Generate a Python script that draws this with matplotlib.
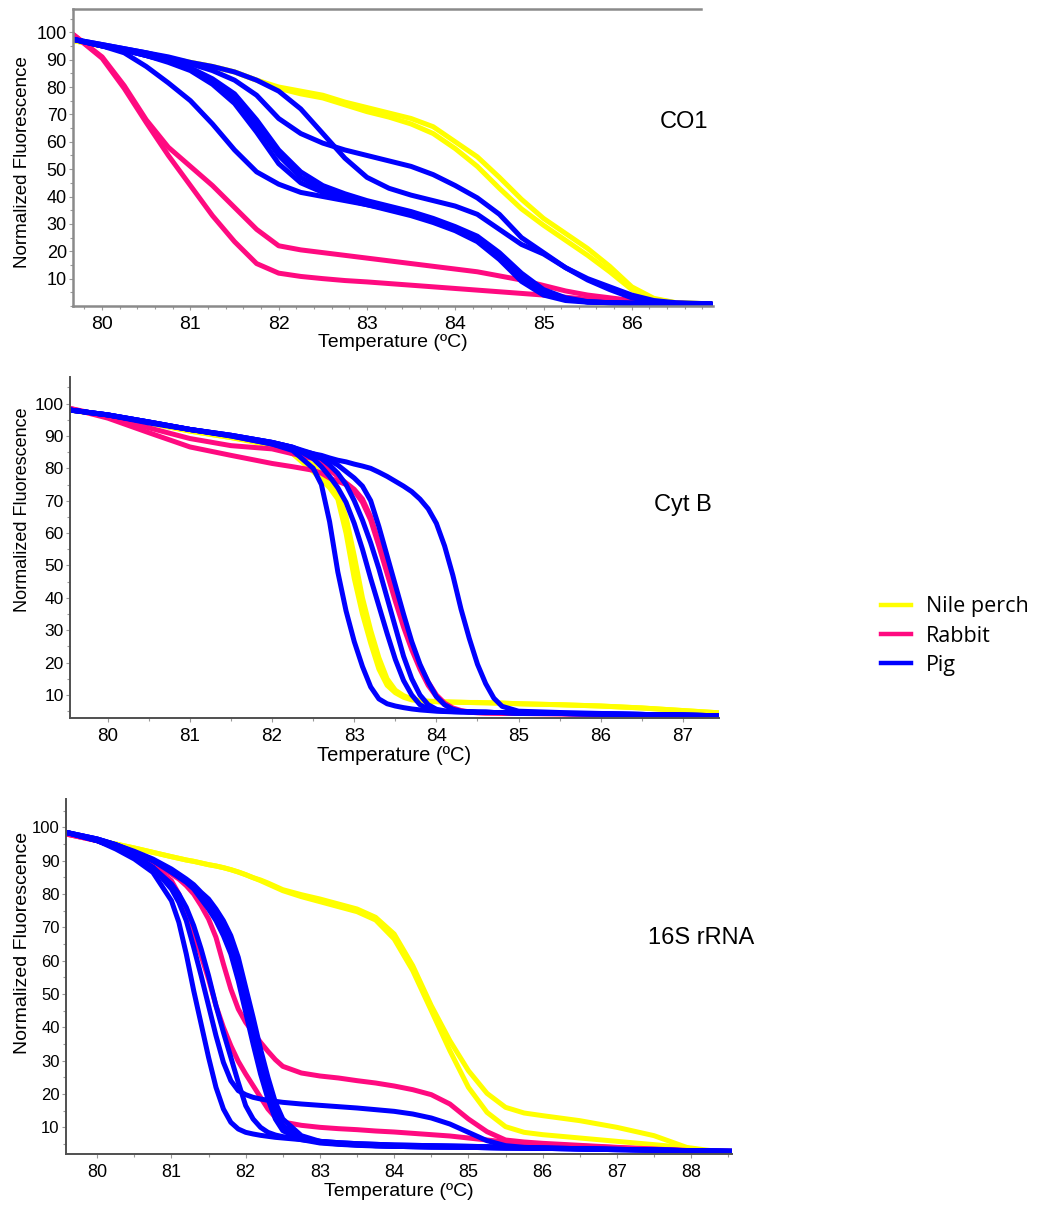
import matplotlib
matplotlib.use("Agg")
import matplotlib.pyplot as plt
from matplotlib.lines import Line2D
from matplotlib.ticker import MultipleLocator

plt.rcParams['font.family'] = ['Liberation Sans', 'DejaVu Sans']

# ---------------- data ----------------
# CO1 panel
co1_temp = [79.66, 80.0, 80.25, 80.5, 80.75, 81.0, 81.25, 81.5, 81.75, 82.0, 82.25, 82.5, 82.75, 83.0,
            83.25, 83.5, 83.75, 84.0, 84.25, 84.5, 84.75, 85.0, 85.25, 85.5, 85.75, 86.0, 86.25, 86.5, 86.9]
co1_nile_perch = [
    [97, 95, 93.5, 92, 90.5, 89, 87.5, 85.5, 82.5, 80, 78.5, 77, 74.5, 72.5, 70.5, 68.5, 65.5, 60, 54.5, 47, 39, 32, 26.5, 21, 14.5, 7, 2.8, 1.2, 0.8],
    [97, 95, 93.5, 92, 90.5, 89, 87.5, 85.5, 82.5, 79.5, 77.5, 76, 73.5, 71, 69, 66.5, 63, 57.5, 51, 43, 35.5, 29.5, 24, 18.5, 12.5, 6, 2.5, 1.2, 0.8],
]
co1_rabbit = [
    [99.5, 91, 80.5, 68, 58, 51, 44, 36, 28, 22, 20.5, 19.5, 18.5, 17.5, 16.5, 15.5, 14.5, 13.5, 12.5, 11, 9.5, 7.5, 5.5, 4, 3, 2, 1.5, 1, 0.7],
    [99.5, 90.5, 79.5, 67, 55, 44, 33, 23.5, 15.5, 12, 10.8, 10, 9.3, 8.8, 8.2, 7.6, 7, 6.4, 5.8, 5.2, 4.6, 4, 3.2, 2.5, 2, 1.5, 1.2, 1, 0.7],
]
co1_pig = [
    [97.5, 95.5, 94, 92.5, 91, 89, 87.5, 85.5, 82.5, 78.5, 72, 63, 54, 47, 43, 40.5, 38.5, 36.5, 33.5, 28, 22.5, 19, 14, 9.5, 6, 3, 1.5, 1, 0.8],
    [97.5, 95.5, 94, 92.5, 90.5, 88.5, 86, 82.5, 77, 68.5, 63, 59.5, 57, 55, 53, 51, 48, 44, 39.5, 33.5, 25, 19.5, 14, 10, 7, 4, 2, 1.2, 0.8],
    [97.5, 95, 93.5, 91.5, 89.5, 86.5, 82, 76, 66, 55, 47, 42.5, 40, 38, 36, 34, 31.5, 28.5, 24.5, 18, 10, 5, 2.5, 1.5, 1.2, 1, 0.9, 0.8, 0.7],
    [97.5, 95, 93.5, 91.5, 89.5, 87, 83, 77.5, 68, 57, 49, 44, 41, 38.5, 36.5, 34.5, 32, 29, 25.5, 19.5, 12, 6, 3, 1.6, 1.2, 1, 0.9, 0.8, 0.7],
    [97.5, 95, 93.5, 91.5, 89, 86, 81, 74, 63.5, 52, 45, 41.5, 39, 37, 35, 33, 30.5, 27.5, 23.5, 17, 9, 4, 2, 1.4, 1.2, 1, 0.9, 0.8, 0.7],
    [97.5, 95, 92.5, 87.5, 81.5, 75, 66.5, 57, 49, 44.5, 41.5, 40, 38.5, 37, 35.5, 33.5, 31.5, 28.5, 24, 18, 10.5, 5, 2.5, 1.5, 1.2, 1, 0.9, 0.8, 0.7],
]

# Cyt B panel
cytb_temp = [79.54, 80.0, 80.5, 81.0, 81.5, 82.0, 82.25, 82.5, 82.6, 82.7, 82.8, 82.9, 83.0, 83.1, 83.2, 83.3,
             83.4, 83.5, 83.6, 83.7, 83.8, 83.9, 84.0, 84.1, 84.2, 84.3, 84.4, 84.5, 84.6, 84.7, 84.8, 85.0,
             85.5, 86.0, 86.5, 87.0, 87.44]
cytb_nile_perch = [
    [98, 96.3, 94, 91.5, 89.5, 87, 84.5, 79, 76.5, 74, 70.5, 60, 46, 35, 26, 18, 13, 10.7, 9.3, 8.5, 8.2, 8.0, 7.9, 7.8, 7.8, 7.7, 7.7, 7.6, 7.6, 7.5, 7.5, 7.3, 7.0, 6.6, 6.0, 5.2, 4.5],
    [98, 96.3, 94, 91.5, 89.5, 87.5, 85, 81, 78, 75.5, 72, 65, 53, 40, 30, 21.5, 15, 11.5, 9.8, 8.8, 8.3, 8.1, 8.0, 7.9, 7.8, 7.8, 7.7, 7.7, 7.6, 7.6, 7.5, 7.3, 7.0, 6.6, 6.0, 5.2, 4.5],
]
cytb_rabbit = [
    [98.5, 96, 92.5, 89.2, 87, 86, 84.5, 83, 81.5, 79.5, 77.5, 75.5, 73.5, 70.5, 65, 57, 49, 40, 32, 25, 19, 14, 10, 7.5, 6, 5.2, 4.8, 4.6, 4.5, 4.4, 4.4, 4.3, 4.2, 4.0, 3.9, 3.7, 3.5],
    [98.5, 95.5, 91, 86.6, 84, 81.5, 80.5, 79.4, 78.5, 77, 76, 75, 73, 69.5, 64, 56, 47.5, 39, 31, 24, 18, 13, 9.5, 7, 5.6, 5.0, 4.7, 4.5, 4.4, 4.4, 4.3, 4.3, 4.2, 4.0, 3.9, 3.7, 3.5],
]
cytb_pig = [
    [98, 96.5, 94, 92, 90, 87.5, 85.5, 80, 75, 63.5, 48, 36, 26.5, 18.8, 12.5, 8.8, 7.3, 6.6, 6.1, 5.7, 5.4, 5.2, 5.0, 4.9, 4.8, 4.8, 4.7, 4.7, 4.6, 4.6, 4.6, 4.5, 4.3, 4.2, 4.0, 3.8, 3.6],
    [98, 96.5, 94.3, 92, 90.2, 88, 86.5, 83, 80.5, 77.5, 74, 69.5, 63, 55, 46, 37.5, 29, 21, 14.5, 10, 7, 5.7, 5.2, 5.0, 4.9, 4.8, 4.8, 4.7, 4.7, 4.6, 4.6, 4.4, 4.3, 4.1, 4.0, 3.8, 3.6],
    [98, 96.5, 94.3, 92, 90.2, 88, 86.5, 84, 83, 81, 78.5, 75, 70, 64, 57, 49, 40, 31, 22, 15, 10, 7, 5.6, 5.1, 4.9, 4.8, 4.8, 4.7, 4.7, 4.6, 4.6, 4.4, 4.3, 4.1, 4.0, 3.8, 3.6],
    [98, 96.5, 94.3, 92, 90.2, 88, 86.5, 84.5, 83.5, 82.5, 81, 79, 77, 74.5, 70, 62, 53, 44, 35, 26.5, 19.5, 14, 9.5, 7, 5.6, 5.0, 4.8, 4.7, 4.7, 4.6, 4.6, 4.4, 4.3, 4.1, 4.0, 3.8, 3.6],
    [98, 96.5, 94.3, 92, 90, 87.5, 86, 84.5, 84, 83.2, 82.5, 82, 81.3, 80.7, 80, 78.8, 77.5, 76, 74.5, 72.8, 70.5, 67.5, 63, 56, 47, 36.5, 27.5, 19.5, 13.5, 9, 6.5, 5, 4.6, 4.3, 4.0, 3.8, 3.6],
]

# 16S rRNA panel
s16_temp = [79.58, 80.0, 80.25, 80.5, 80.75, 81.0, 81.1, 81.2, 81.3, 81.4, 81.5, 81.6, 81.7, 81.8, 81.9, 82.0,
            82.1, 82.2, 82.3, 82.4, 82.5, 82.75, 83.0, 83.25, 83.5, 83.75, 84.0, 84.25, 84.5, 84.75, 85.0,
            85.25, 85.5, 85.75, 86.0, 86.5, 87.0, 87.5, 88.0, 88.2, 88.55]
s16_nile_perch = [
    [98.5, 96, 95, 93.8, 92.5, 91.2, 90.7, 90.2, 89.8, 89.3, 88.8, 88.4, 87.9, 87.3, 86.6, 85.8, 84.9, 84.2, 83.3, 82.3, 81.3, 79.8, 78.5, 77, 75.5, 73, 68, 58.5, 46.5, 36, 27, 20.2, 16, 14.3, 13.5, 12, 10, 7.5, 3.5, 2.2, 2.2],
    [98.5, 96, 95, 93.8, 92.5, 91.2, 90.7, 90.2, 89.8, 89.3, 88.8, 88.4, 87.9, 87.3, 86.6, 85.8, 84.9, 84.0, 83.0, 82.0, 81.0, 79.2, 77.7, 76.2, 74.7, 72.2, 66.5, 57, 45, 33, 22, 14.5, 10.2, 8.5, 7.8, 6.8, 5.8, 4.8, 3.8, 3.2, 2.3],
]
s16_rabbit = [
    [98, 96, 94, 91.5, 89.3, 86, 84.5, 82.5, 80, 76.5, 72.5, 67, 59, 51.5, 45.5, 41.5, 38.5, 35.5, 32.8, 30.3, 28.3, 26.3, 25.4, 24.8, 24, 23.3, 22.4, 21.3, 19.8, 17, 12.5, 8.7, 6.2, 5.6, 5.2, 4.6, 4, 3.5, 3, 2.9, 2.8],
    [98, 96, 94, 91.5, 88.5, 84, 80, 74.5, 68, 61.5, 54.5, 46.5, 40, 34.5, 29.8, 26, 22.5, 19, 15.5, 13, 11.6, 10.6, 10, 9.6, 9.3, 8.9, 8.6, 8.2, 7.8, 7.4, 6.8, 6.2, 5.6, 5.2, 4.9, 4.4, 3.9, 3.4, 3.0, 2.9, 2.8],
]
s16_pig = [
    [98.5, 96, 93.5, 90.5, 86.5, 78, 71.5, 62, 51, 41, 31, 22, 15.5, 11.5, 9.5, 8.5, 8, 7.6, 7.3, 7, 6.8, 6.3, 5.8, 5.4, 5.1, 4.9, 4.7, 4.6, 4.5, 4.4, 4.3, 4.2, 4.0, 3.9, 3.8, 3.6, 3.4, 3.2, 3.0, 2.9, 2.8],
    [98.5, 96, 94, 91.5, 88, 81.5, 77.5, 72, 64, 55.5, 46.5, 37.5, 29.5, 24, 21, 19.8, 19, 18.5, 18.1, 17.8, 17.5, 17, 16.6, 16.2, 15.8, 15.3, 14.8, 14, 12.8, 11, 8.5, 6, 4.5, 4, 3.8, 3.6, 3.4, 3.2, 3.0, 2.9, 2.8],
    [98.5, 96, 94, 91.5, 88, 83, 80, 76, 70.5, 63.5, 55.5, 46.5, 38.5, 31, 23.5, 16.5, 12.5, 10, 8.5, 7.7, 7.2, 6.4, 5.8, 5.4, 5.1, 4.9, 4.7, 4.6, 4.5, 4.4, 4.3, 4.2, 4.0, 3.9, 3.8, 3.6, 3.4, 3.2, 3.0, 2.9, 2.8],
    [98.5, 96.5, 94.8, 92.5, 90, 87, 85.5, 84, 82, 79.5, 77, 73.5, 69.5, 64.5, 57, 47, 38, 29, 21, 14.5, 10.5, 6.8, 5.5, 5, 4.7, 4.5, 4.3, 4.2, 4.1, 4.05, 4, 3.9, 3.8, 3.75, 3.7, 3.5, 3.3, 3.15, 3.0, 2.9, 2.8],
    [98.5, 96.5, 94.8, 92.8, 90.5, 87.5, 86, 84.5, 82.8, 80.5, 78.5, 75.5, 72, 67.5, 61, 52, 43, 33.5, 25, 17.5, 12.5, 7.5, 5.8, 5.1, 4.8, 4.5, 4.3, 4.2, 4.1, 4.05, 4, 3.9, 3.8, 3.75, 3.7, 3.5, 3.3, 3.15, 3.0, 2.9, 2.8],
    [98.5, 96.5, 94.8, 92.5, 90, 86.5, 85, 83.5, 81.5, 78.5, 75.5, 72, 67.5, 62, 54, 44.5, 35, 26, 18.5, 12.5, 9, 6.3, 5.3, 4.9, 4.6, 4.4, 4.3, 4.2, 4.1, 4.05, 4, 3.9, 3.8, 3.75, 3.7, 3.5, 3.3, 3.15, 3.0, 2.9, 2.8],
]

panel_labels = ["CO1", "Cyt B", "16S rRNA"]
species = ["Nile perch", "Rabbit", "Pig"]
y_ticks = [10, 20, 30, 40, 50, 60, 70, 80, 90, 100]
co1_xticks = [80, 81, 82, 83, 84, 85, 86]
cytb_xticks = [80, 81, 82, 83, 84, 85, 86, 87]
s16_xticks = [80, 81, 82, 83, 84, 85, 86, 87, 88]

# ---------------- style ----------------
C_YEL = "#FFFF00"
C_PINK = "#FF0A80"
C_BLUE = "#0000FF"
LW = 3.6

W, H = 1042, 1205
fig = plt.figure(figsize=(W / 100, H / 100), dpi=100)


def px_axes(left, top, right, bottom):
    return fig.add_axes([left / W, 1 - bottom / H, (right - left) / W, (bottom - top) / H])


def draw(ax, temp, yel, pink, blue):
    for group, col in ((yel, C_YEL), (pink, C_PINK), (blue, C_BLUE)):
        for c in group:
            ax.plot(temp, c, color=col, lw=LW, solid_capstyle='round', solid_joinstyle='round')


def style(ax, xlim, ylim, xticks, spine_color, spine_lw, xminor, xfs, yfs):
    ax.set_xlim(*xlim)
    ax.set_ylim(*ylim)
    ax.set_xticks(xticks)
    ax.set_yticks(y_ticks)
    ax.xaxis.set_minor_locator(MultipleLocator(xminor))
    ax.yaxis.set_minor_locator(MultipleLocator(5))
    ax.spines['right'].set_visible(False)
    ax.spines['top'].set_visible(False)
    for s in ('left', 'bottom'):
        ax.spines[s].set_color(spine_color)
        ax.spines[s].set_linewidth(spine_lw)
    ax.tick_params(axis='both', which='both', color='#9a9a9a', width=0.8)
    ax.tick_params(axis='both', which='major', length=3)
    ax.tick_params(axis='both', which='minor', length=2.5)
    ax.tick_params(axis='x', labelsize=xfs, pad=4)
    ax.tick_params(axis='y', labelsize=yfs, pad=1.5)


# Panel 1: CO1
ax1 = px_axes(73, 9, 713, 306)
draw(ax1, co1_temp, co1_nile_perch, co1_rabbit, co1_pig)
style(ax1, (79.67, 86.92), (0, 108.5), co1_xticks, '#8a8a8a', 1.8, 0.2, 14, 13)
ax1.spines['top'].set_visible(True)
ax1.spines['top'].set_color('#8a8a8a')
ax1.spines['top'].set_linewidth(1.8)
ax1.spines['top'].set_bounds(79.67, 86.78)
ax1.set_xlabel("Temperature (ºC)", fontsize=14, labelpad=1)
ax1.set_ylabel("Normalized Fluorescence", fontsize=13.5)
ax1.yaxis.set_label_coords(-0.066, 0.485)

# Panel 2: Cyt B
ax2 = px_axes(70, 377, 719, 718)
draw(ax2, cytb_temp, cytb_nile_perch, cytb_rabbit, cytb_pig)
style(ax2, (79.54, 87.44), (2.9, 108.2), cytb_xticks, '#505050', 1.4, 0.5, 13.5, 12.5)
ax2.set_xlabel("Temperature (ºC)", fontsize=14.5, labelpad=1)
ax2.set_ylabel("Normalized Fluorescence", fontsize=13)
ax2.yaxis.set_label_coords(-0.060, 0.61)

# Panel 3: 16S rRNA
ax3 = px_axes(66, 799, 732, 1154)
draw(ax3, s16_temp, s16_nile_perch, s16_rabbit, s16_pig)
style(ax3, (79.58, 88.55), (2, 108.5), s16_xticks, '#505050', 1.4, 0.5, 13, 12)
ax3.set_xlabel("Temperature (ºC)", fontsize=14, labelpad=2)
ax3.set_ylabel("Normalized Fluorescence", fontsize=14)
ax3.yaxis.set_label_coords(-0.0526, 0.594)

# Panel names
for lab, (x, y) in zip(panel_labels, ((684, 122), (683, 505), (701, 938))):
    fig.text(x / W, 1 - y / H, lab, fontsize=17, ha='center', va='center')

# Legend
handles = [Line2D([], [], color=c, lw=3.2) for c in (C_YEL, C_PINK, C_BLUE)]
fig.legend(handles, species, loc='center left', bbox_to_anchor=(881 / W, 1 - 636 / H),
           frameon=False, borderpad=0, borderaxespad=0, handlelength=1.4, handletextpad=0.7,
           labelspacing=0.38, prop={'family': ['Open Sans', 'DejaVu Sans'], 'size': 15.5})

fig.savefig("out.png", dpi=100)
